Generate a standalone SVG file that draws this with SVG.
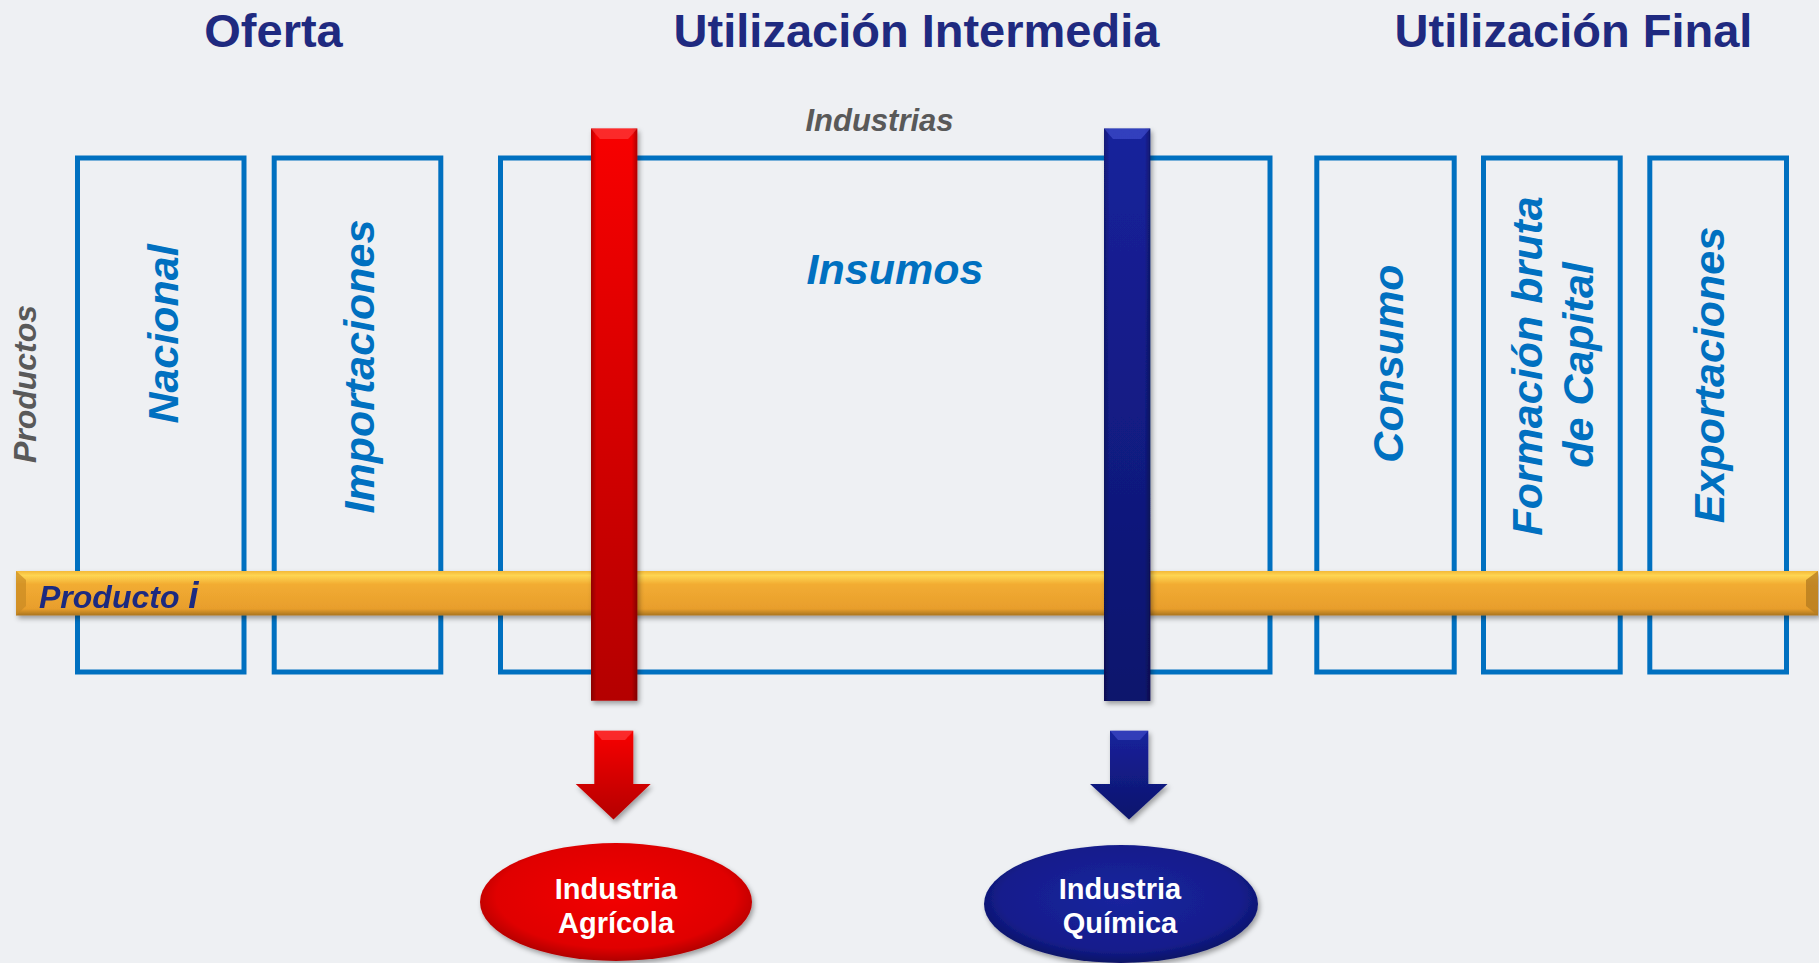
<svg xmlns="http://www.w3.org/2000/svg" width="1819" height="963" viewBox="0 0 1819 963">
<defs>
<style>
.title{font-family:"Liberation Sans",Arial,sans-serif;font-weight:bold;font-size:47px;fill:#1f2a80;text-anchor:middle}
.box{fill:none;stroke:#0070c0;stroke-width:5}
.lbl{font-family:"Liberation Sans",Arial,sans-serif;font-weight:bold;font-style:italic;font-size:43px;fill:#0070c0;text-anchor:middle}
.gray{font-family:"Liberation Sans",Arial,sans-serif;font-weight:bold;font-style:italic;fill:#595959;text-anchor:middle}
.ell{font-family:"Liberation Sans",Arial,sans-serif;font-weight:bold;font-size:29px;fill:#ffffff;text-anchor:middle}
</style>
<linearGradient id="gRed" x1="0" y1="0" x2="0" y2="1">
<stop offset="0" stop-color="#f80606"/><stop offset="1" stop-color="#b40000"/>
</linearGradient>
<linearGradient id="gBlue" x1="0" y1="0" x2="0" y2="1">
<stop offset="0" stop-color="#17229c"/><stop offset="1" stop-color="#0d146c"/>
</linearGradient>
<linearGradient id="gEdge" x1="0" y1="0" x2="1" y2="0">
<stop offset="0" stop-color="#000" stop-opacity="0.25"/><stop offset="0.12" stop-color="#000" stop-opacity="0"/>
<stop offset="0.88" stop-color="#000" stop-opacity="0"/><stop offset="1" stop-color="#000" stop-opacity="0.3"/>
</linearGradient>
<linearGradient id="gYel" x1="0" y1="0" x2="0" y2="1">
<stop offset="0" stop-color="#f4b838"/><stop offset="0.1" stop-color="#fed552"/><stop offset="0.3" stop-color="#f2ac32"/>
<stop offset="0.85" stop-color="#e89e2c"/><stop offset="1" stop-color="#a87420"/>
</linearGradient>
<radialGradient id="rRed" cx="0.5" cy="0.45" r="0.55">
<stop offset="0" stop-color="#f20000"/><stop offset="0.8" stop-color="#e00000"/><stop offset="1" stop-color="#b00000"/>
</radialGradient>
<radialGradient id="rBlue" cx="0.5" cy="0.45" r="0.55">
<stop offset="0" stop-color="#1a249e"/><stop offset="0.8" stop-color="#141d8c"/><stop offset="1" stop-color="#0b1266"/>
</radialGradient>
<filter id="sh" x="-20%" y="-20%" width="140%" height="140%">
<feDropShadow dx="2" dy="3" stdDeviation="2.5" flood-color="#000" flood-opacity="0.35"/>
</filter>
</defs>
<rect x="0" y="0" width="1819" height="963" fill="#eef0f3"/>

<g id="titles">
<text class="title" x="273.5" y="46.7">Oferta</text>
<text class="title" x="916.5" y="46.7">Utilización Intermedia</text>
<text class="title" x="1573.5" y="46.7">Utilización Final</text>
</g>

<g id="axis-labels">
<text class="gray" font-size="31" x="879.5" y="131.4">Industrias</text>
<text class="gray" font-size="32" transform="translate(36,384) rotate(-90)">Productos</text>
</g>

<g id="nacional">
<rect class="box" x="77.5" y="158" width="166.5" height="514"/>
<text class="lbl" transform="translate(178,334) rotate(-90)">Nacional</text>
</g>
<g id="importaciones">
<rect class="box" x="274.2" y="158" width="166.6" height="514"/>
<text class="lbl" transform="translate(374,366.5) rotate(-90)">Importaciones</text>
</g>
<g id="insumos">
<rect class="box" x="500.5" y="158" width="769.5" height="514"/>
<text class="lbl" x="895" y="284.4">Insumos</text>
</g>
<g id="consumo">
<rect class="box" x="1316.8" y="158" width="137.4" height="514"/>
<text class="lbl" transform="translate(1403,363.5) rotate(-90)">Consumo</text>
</g>
<g id="formacion">
<rect class="box" x="1483.5" y="158" width="136.7" height="514"/>
<text class="lbl" transform="translate(1541.5,366) rotate(-90)">Formación bruta</text>
<text class="lbl" transform="translate(1592.5,365) rotate(-90)">de Capital</text>
</g>
<g id="exportaciones">
<rect class="box" x="1649.8" y="158" width="136.7" height="514"/>
<text class="lbl" transform="translate(1724,375) rotate(-90)">Exportaciones</text>
</g>

<g id="producto-i" filter="url(#sh)">
<rect x="16" y="571" width="1802" height="44.5" fill="url(#gYel)"/>
<polygon points="16,571 26,580 26,606 16,615.5" fill="#c98a24" opacity="0.7"/>
<polygon points="1818,571 1806,580 1806,606 1818,615.5" fill="#b77d22" opacity="0.8"/>
<text x="39" y="607.5" font-family="Liberation Sans, Arial, sans-serif" font-weight="bold" font-style="italic" font-size="32" fill="#1f2a80">Producto <tspan font-size="37">i</tspan></text>
</g>

<g id="bar-agricola" filter="url(#sh)">
<rect x="591" y="128.5" width="46.3" height="572.2" fill="url(#gRed)"/>
<rect x="591" y="128.5" width="46.3" height="572.2" fill="url(#gEdge)"/>
<polygon points="591,128.5 637.3,128.5 628,139 600,139" fill="#ff4a4a" opacity="0.55"/>
</g>
<g id="bar-quimica" filter="url(#sh)">
<rect x="1104" y="128.5" width="46.3" height="572.5" fill="url(#gBlue)"/>
<rect x="1104" y="128.5" width="46.3" height="572.5" fill="url(#gEdge)"/>
<polygon points="1104,128.5 1150.3,128.5 1141,139 1113,139" fill="#4a58d8" opacity="0.55"/>
</g>

<g id="connectors" filter="url(#sh)">
<path d="M594.3,730.7 H633.3 V784 H650.7 L613.5,819.5 L575.7,784 H594.3 Z" fill="url(#gRed)"/>
<polygon points="594.3,730.7 633.3,730.7 625,740 602,740" fill="#ff5050" opacity="0.5"/>
<path d="M1110,730.7 H1148.3 V784 H1167.5 L1129,819.5 L1090,784 H1110 Z" fill="url(#gBlue)"/>
<polygon points="1110,730.7 1148.3,730.7 1140,740 1118,740" fill="#4a58d8" opacity="0.5"/>
</g>

<g id="industria-agricola">
<ellipse cx="616" cy="902" rx="136" ry="59" fill="url(#rRed)" filter="url(#sh)"/>
<text class="ell" x="616" y="899">Industria</text>
<text class="ell" x="616" y="933">Agrícola</text>
</g>
<g id="industria-quimica">
<ellipse cx="1121" cy="904" rx="137" ry="59" fill="url(#rBlue)" filter="url(#sh)"/>
<text class="ell" x="1120" y="899">Industria</text>
<text class="ell" x="1120" y="933">Química</text>
</g>
</svg>
